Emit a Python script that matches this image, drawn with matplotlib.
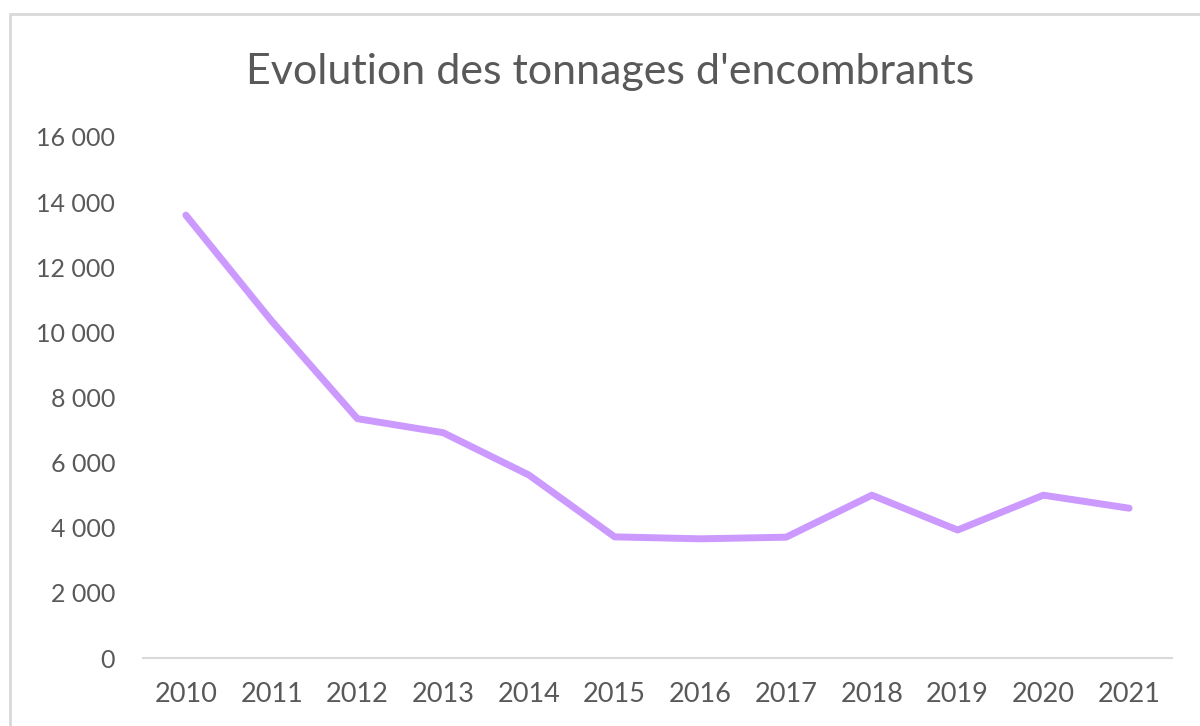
import matplotlib.pyplot as plt
from matplotlib.patches import Rectangle
from matplotlib.ticker import FuncFormatter

years = ['2010', '2011', '2012', '2013', '2014', '2015', '2016', '2017', '2018', '2019', '2020', '2021']
tonnages = [13600, 10350, 7350, 6920, 5620, 3720, 3660, 3710, 5000, 3930, 5000, 4600]

plt.rcParams['font.family'] = ['Lato', 'DejaVu Sans']
grey = '#595959'

fig = plt.figure(figsize=(12, 7.26), dpi=100)
ax = fig.add_axes([143 / 1200, 68 / 726, (1172 - 143) / 1200, (658 - 137) / 726])

# chart frame, cut by the right and bottom edges
fig.patches.append(Rectangle((10 / 1200, -0.1), 1.2, 1 - 14 / 726 + 0.1,
                             transform=fig.transFigure, fill=False,
                             edgecolor='#D9D9D9', linewidth=2))

x = list(range(len(years)))
ax.plot(x, tonnages, color='#CC99FF', linewidth=5, solid_capstyle='round', solid_joinstyle='round')

ax.set_xlim(-0.5, len(years) - 0.5)
ax.set_ylim(0, 16000)
ax.set_yticks(range(0, 16001, 2000))
ax.yaxis.set_major_formatter(FuncFormatter(lambda v, p: f'{int(v):,}'.replace(',', ' ')))
ax.set_xticks(x)
ax.set_xticklabels(years)

for s in ['top', 'right', 'left']:
    ax.spines[s].set_visible(False)
ax.spines['bottom'].set_color('#D9D9D9')
ax.spines['bottom'].set_linewidth(1.5)
ax.tick_params(axis='both', length=0, labelsize=18, colors=grey)
ax.tick_params(axis='x', labelsize=19.5, pad=17)
ax.tick_params(axis='y', pad=20)

fig.text(610 / 1200, 1 - 72 / 726, "Evolution des tonnages d'encombrants",
         ha='center', va='center', fontsize=31, color=grey)

fig.savefig('out.png', dpi=100)
